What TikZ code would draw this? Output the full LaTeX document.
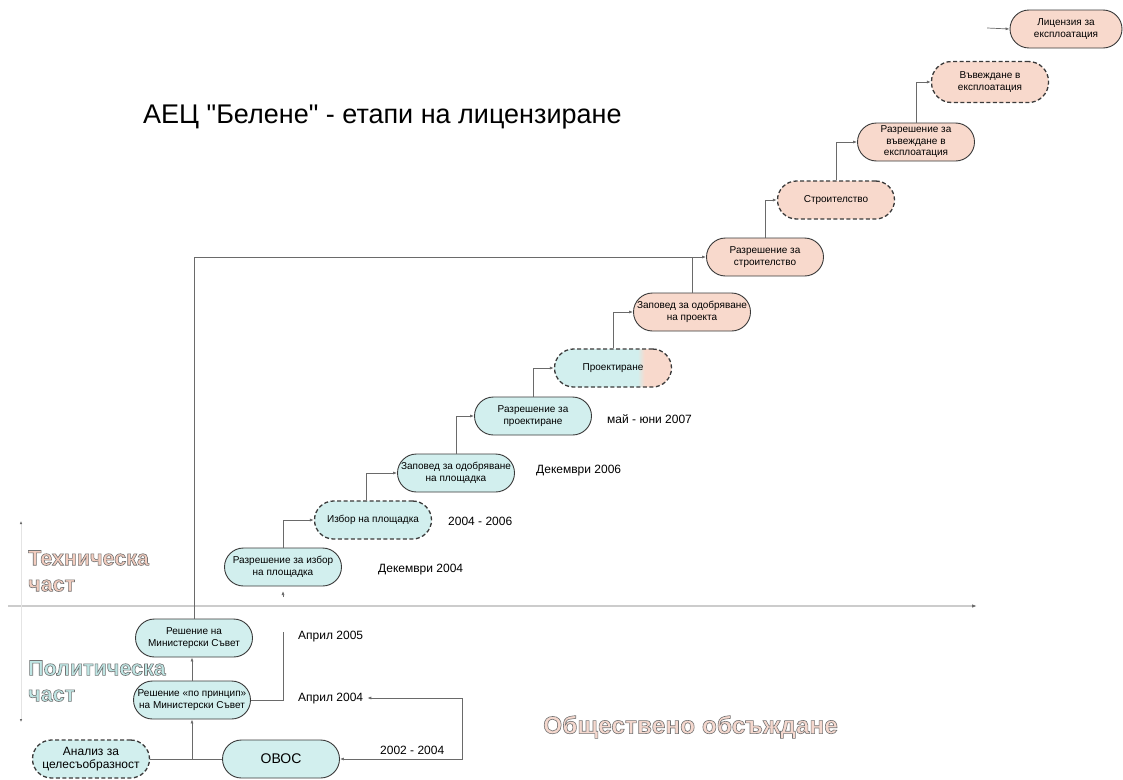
\documentclass[tikz,border=0pt]{standalone}
\usepackage{fontspec}
\setmainfont{Liberation Sans}[Ligatures=TeXOff]
\usetikzlibrary{arrows.meta,calc}
\definecolor{cyanfill}{HTML}{D2EFEE}
\definecolor{pinkfill}{HTML}{F8D9CC}
\definecolor{edge}{HTML}{3A3A3A}
\definecolor{conngray}{HTML}{6A6A6A}
\definecolor{axisgray}{HTML}{CCCCCC}
\definecolor{faintgray}{HTML}{E4E4E4}
\definecolor{techfill}{HTML}{F3CDBF}
\definecolor{polfill}{HTML}{BFE6E4}
\definecolor{pubfill}{HTML}{F5D8CE}
\pgfdeclarehorizontalshading{cypk}{100bp}{color(0bp)=(cyanfill); color(60.5bp)=(cyanfill); color(63.5bp)=(pinkfill); color(100bp)=(pinkfill)}
\newcommand{\outlined}[2]{{\color{#1}\special{pdf:code 2 Tr 0.6 w 0.45 G}#2\special{pdf:code 0 Tr 0.4 w}}}
\tikzset{
  box/.style={draw=edge, line width=0.9pt, rounded corners=19pt, minimum width=117pt,
    minimum height=38pt, align=center, inner sep=1pt, font=\fontsize{10}{11.5}\selectfont},
  cy/.style={box, fill=cyanfill},
  pk/.style={box, fill=pinkfill},
  dashbox/.style={dash pattern=on 4pt off 2.5pt, line width=1.3pt},
  conn/.style={draw=conngray, line width=0.7pt},
  arr/.style={conn, -{Latex[length=4pt,width=3pt]}},
  datelbl/.style={anchor=west, font=\fontsize{12}{14}\selectfont, inner sep=0pt},
  biglbl/.style={anchor=west, align=left, inner sep=0pt, font=\bfseries\fontsize{21.5}{26}\selectfont}
}
\begin{document}
\begin{tikzpicture}[x=1pt,y=-1pt]
\fill[white] (0,0) rectangle (1123,779);
\useasboundingbox (0,0) rectangle (1123,779);

% axes
\coordinate (ax0) at (8,606);
\coordinate (ax1) at (977,606);
\draw[draw=axisgray, line width=1.3pt, -{Latex[length=5pt,width=3.5pt,color=conngray]}] (ax0) -- (ax1);
\coordinate (vt) at (21,521);
\coordinate (vb) at (21,722);
\draw[draw=faintgray, line width=0.6pt, {Latex[length=3pt,width=2.5pt,color=conngray]}-{Latex[length=3pt,width=2.5pt,color=conngray]}] (vt) -- (vb);

% title
\node[anchor=west, inner sep=0pt, font=\fontsize{27}{30}\selectfont] (title) at (143,117) {АЕЦ "Белене" - етапи на лицензиране};

% nodes
\node[cy,dashbox,font=\fontsize{12}{13.5}\selectfont] (an) at (91,759) {Анализ за\\целесъобразност};
\node[cy,font=\fontsize{14}{16}\selectfont] (ovos) at (281,759) {ОВОС};
\node[cy] (prin) at (192,700) {Решение «по принцип»\\на Министерски Съвет};
\node[cy] (ms) at (194,638) {Решение на\\Министерски Съвет};
\node[cy] (razizb) at (283,567) {Разрешение за избор\\на площадка};
\node[cy,dashbox] (izb) at (373,520) {Избор на площадка};
\node[cy] (zap1) at (456,473) {Заповед за одобряване\\на площадка};
\node[cy] (razpr) at (533,416) {Разрешение за\\проектиране};
\node[box,dashbox,shading=cypk,shade] (proekt) at (613,368) {Проектиране};
\node[pk] (zap2) at (692,312) {Заповед за одобряване\\на проекта};
\node[pk] (razstr) at (765,257) {Разрешение за\\строителство};
\node[pk,dashbox] (stroi) at (836,200) {Строителство};
\node[pk] (razvav) at (916,142) {Разрешение за\\въвеждане в\\експлоатация};
\node[pk,dashbox,minimum height=41pt,rounded corners=20pt] (vav) at (990,82) {Въвеждане в\\експлоатация};
\node[pk,minimum width=112pt] (lic) at (1066,29) {Лицензия за\\експлоатация};

% date labels
\node[datelbl] (d04) at (378,570) {Декември 2004};
\node[datelbl] (d0406) at (448,521) {2004 - 2006};
\node[datelbl] (d06) at (536,471) {Декември 2006};
\node[datelbl] (d07) at (607,419) {май - юни 2007};
\node[datelbl] (a05) at (298,637) {Април 2005};
\node[datelbl] (a04) at (298,699) {Април 2004};
\node[datelbl] (d0204) at (380,750) {2002 - 2004};

% connectors
\coordinate (j1) at (prin.south |- an.east);
\draw[conn] (an.east) -- (ovos.west);
\draw[arr] (j1) -- (prin.south);
\draw[arr] (prin.north) -- (prin.north |- ms.south);
\coordinate (c1) at (283,632);
\draw[conn] (prin.east) -| (c1);
\coordinate (c2) at (462,698);
\draw[arr] (c2) |- (ovos.east);
\draw[arr, shorten >=4pt] (c2) -- (c2 -| a04.east);
\draw[arr] (ms.north) |- (razstr.west);
\draw[conn] (zap2.north) -- (zap2.north |- razstr.west);
\draw[arr] (razizb.north) |- (izb.west);
\draw[arr] ($(izb.north)+(-7,0)$) |- (zap1.west);
\draw[arr] (zap1.north) |- (razpr.west);
\draw[arr] (razpr.north) |- (proekt.west);
\draw[arr] (proekt.north) |- (zap2.west);
\draw[arr] (razstr.north) |- (stroi.west);
\draw[arr] (stroi.north) |- (razvav.west);
\draw[arr] (razvav.north) |- (vav.west);
\coordinate (c3) at (987,28);
\draw[arr] (c3) -- (lic.west);
\coordinate (c4) at (283,597);
\coordinate (c5) at (283,591);
\draw[arr] (c4) -- (c5);

% section labels (outlined)
\node[biglbl] (tech) at (28,571) {\outlined{techfill}{Техническа}\\\outlined{techfill}{част}};
\node[biglbl] (pol) at (28,681) {\outlined{polfill}{Политическа}\\\outlined{polfill}{част}};
\node[anchor=west, inner sep=0pt, font=\bfseries\fontsize{24.5}{28}\selectfont] (pub) at (543,727) {\outlined{pubfill}{Обществено обсъждане}};
\end{tikzpicture}
\end{document}
